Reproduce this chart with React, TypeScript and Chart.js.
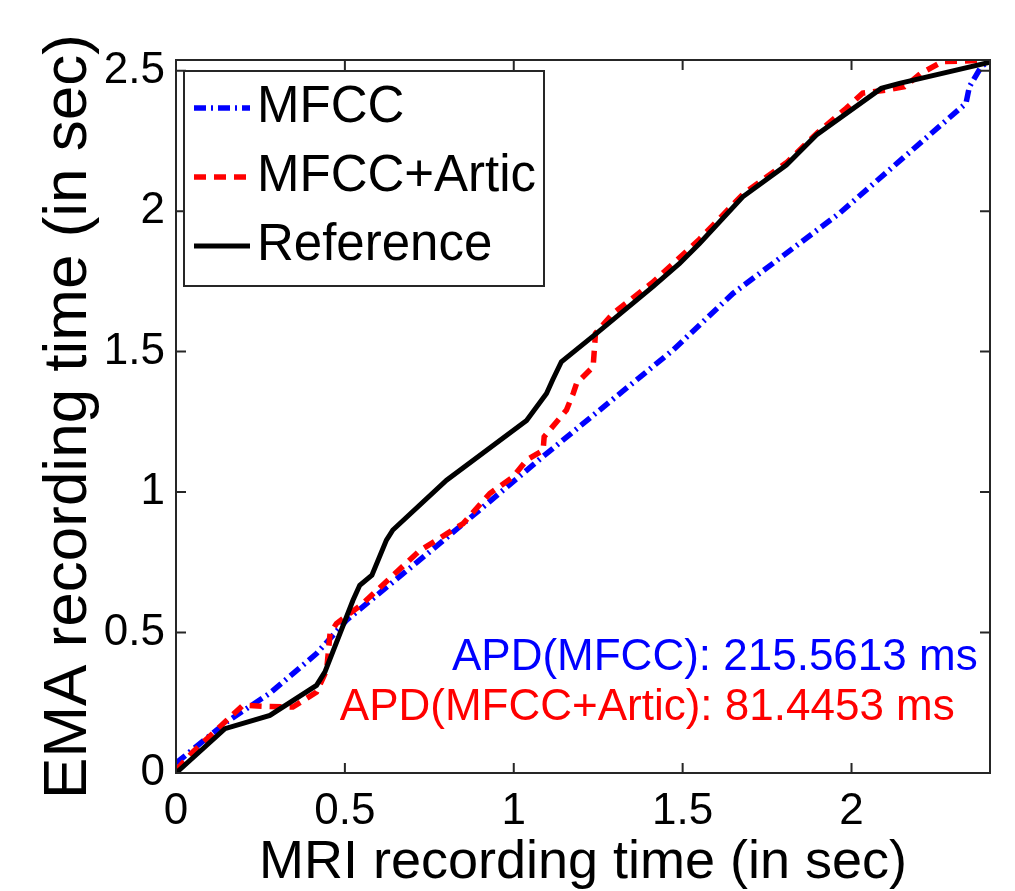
import React, { useEffect, useRef } from 'react';
import { Chart, registerables } from 'chart.js';

Chart.register(...registerables);

// ---- data ----
const seriesLabels = ['MFCC', 'MFCC+Artic', 'Reference'];

const mfccX = [0, 0.15, 0.278, 0.416, 0.505, 0.781, 1.097, 1.471, 1.649, 1.964, 2.339, 2.349, 2.384, 2.41];
const mfccY = [0.035, 0.182, 0.284, 0.425, 0.544, 0.817, 1.137, 1.505, 1.707, 1.992, 2.384, 2.443, 2.514, 2.538];

const articX = [0, 0.05, 0.198, 0.268, 0.346, 0.416, 0.446, 0.456, 0.475, 0.55, 0.72, 0.85, 0.929, 0.998, 1.038, 1.087, 1.09, 1.156, 1.176, 1.186, 1.235, 1.242, 1.294, 1.41, 1.55, 1.68, 1.81, 1.9, 1.984, 2.033, 2.103, 2.157, 2.206, 2.269, 2.41];
const articY = [0.01, 0.075, 0.241, 0.237, 0.235, 0.288, 0.366, 0.496, 0.532, 0.6, 0.79, 0.888, 0.995, 1.054, 1.114, 1.149, 1.197, 1.292, 1.351, 1.387, 1.446, 1.565, 1.636, 1.745, 1.9, 2.062, 2.175, 2.28, 2.366, 2.42, 2.431, 2.443, 2.491, 2.532, 2.538];

const refX = [0, 0.145, 0.278, 0.416, 0.441, 0.524, 0.544, 0.58, 0.623, 0.642, 0.801, 1.038, 1.097, 1.115, 1.141, 1.245, 1.412, 1.491, 1.55, 1.678, 1.807, 1.896, 2.088, 2.142, 2.41];
const refY = [0, 0.158, 0.205, 0.312, 0.36, 0.615, 0.668, 0.704, 0.829, 0.865, 1.042, 1.255, 1.351, 1.399, 1.464, 1.565, 1.731, 1.814, 1.885, 2.051, 2.164, 2.271, 2.437, 2.455, 2.53];

const xTicks = [0, 0.5, 1, 1.5, 2];
const yTicks = [0, 0.5, 1, 1.5, 2, 2.5];
const xMin = 0;
const xMax = 2.41;
const yMin = 0;
const yMax = 2.538;

const xTitle = 'MRI recording time (in sec)';
const yTitle = 'EMA recording time (in sec)';

const apdTexts = ['APD(MFCC): 215.5613 ms', 'APD(MFCC+Artic): 81.4453 ms'];
const apdX = [0.817, 0.485];
const apdY = [0.366, 0.188];
const apdColors = ['#0000ff', '#ff0000'];

const FONT = "'Liberation Sans', Arial, Helvetica, sans-serif";

const toPoints = (xs: number[], ys: number[]) => xs.map((x, i) => ({ x, y: ys[i] }));

const framePlugin = {
  id: 'frame',
  afterDatasetsDraw(chart: any) {
    const { ctx, chartArea: ca, scales } = chart;
    const xs = scales.x;
    const ys = scales.y;
    ctx.save();
    ctx.strokeStyle = '#262626';
    ctx.lineWidth = 2;
    ctx.setLineDash([]);
    ctx.strokeRect(ca.left, ca.top, ca.right - ca.left, ca.bottom - ca.top);
    const tl = 10;
    ctx.beginPath();
    xTicks.forEach((v) => {
      const px = xs.getPixelForValue(v);
      ctx.moveTo(px, ca.bottom);
      ctx.lineTo(px, ca.bottom - tl);
      ctx.moveTo(px, ca.top);
      ctx.lineTo(px, ca.top + tl);
    });
    yTicks.forEach((v) => {
      const py = ys.getPixelForValue(v);
      ctx.moveTo(ca.left, py);
      ctx.lineTo(ca.left + tl, py);
      ctx.moveTo(ca.right, py);
      ctx.lineTo(ca.right - tl, py);
    });
    ctx.stroke();
    ctx.restore();
  },
  afterDraw(chart: any) {
    const { ctx, chartArea: ca, scales } = chart;
    ctx.save();
    // annotations
    ctx.font = `44px ${FONT}`;
    ctx.textAlign = 'left';
    ctx.textBaseline = 'alphabetic';
    apdTexts.forEach((t, i) => {
      ctx.fillStyle = apdColors[i];
      ctx.fillText(t, scales.x.getPixelForValue(apdX[i]), scales.y.getPixelForValue(apdY[i]));
    });
    // legend
    const lx = ca.left + 8;
    const ly = ca.top + 11;
    const lw = 360;
    const lh = 215;
    ctx.fillStyle = '#ffffff';
    ctx.fillRect(lx, ly, lw, lh);
    ctx.strokeStyle = '#262626';
    ctx.lineWidth = 2;
    ctx.setLineDash([]);
    ctx.strokeRect(lx, ly, lw, lh);
    const rows = [37, 106, 175];
    ctx.font = `51px ${FONT}`;
    ctx.textBaseline = 'middle';
    chart.data.datasets.forEach((ds: any, i: number) => {
      const cy = ly + rows[i];
      ctx.strokeStyle = ds.borderColor;
      ctx.lineWidth = ds.borderWidth;
      ctx.setLineDash(ds.borderDash || []);
      ctx.beginPath();
      ctx.moveTo(lx + 10, cy);
      ctx.lineTo(lx + 66, cy);
      ctx.stroke();
      ctx.setLineDash([]);
      ctx.fillStyle = '#000000';
      ctx.fillText(ds.label, lx + 73, cy);
    });
    ctx.restore();
  },
};

export default function App() {
  const canvasRef = useRef<HTMLCanvasElement | null>(null);

  useEffect(() => {
    if (!canvasRef.current) return;
    const chart = new Chart(canvasRef.current, {
      type: 'line',
      data: {
        datasets: [
          {
            label: seriesLabels[0],
            data: toPoints(mfccX, mfccY),
            borderColor: '#0000ff',
            borderWidth: 5.5,
            borderDash: [12, 5, 2, 5],
            pointRadius: 0,
            tension: 0,
            order: 3,
            clip: 0,
          },
          {
            label: seriesLabels[1],
            data: toPoints(articX, articY),
            borderColor: '#ff0000',
            borderWidth: 5.5,
            borderDash: [12, 8],
            pointRadius: 0,
            tension: 0,
            order: 2,
            clip: 0,
          },
          {
            label: seriesLabels[2],
            data: toPoints(refX, refY),
            borderColor: '#000000',
            borderWidth: 5,
            pointRadius: 0,
            tension: 0,
            order: 1,
            clip: 0,
          },
        ],
      } as any,
      options: {
        animation: false,
        responsive: true,
        maintainAspectRatio: false,
        layout: { padding: { left: 0, top: 60, right: 25, bottom: 0 } },
        plugins: {
          legend: { display: false },
          tooltip: { enabled: false },
        },
        scales: {
          x: {
            type: 'linear',
            min: xMin,
            max: xMax,
            grid: { display: false, drawTicks: false },
            border: { display: false },
            afterBuildTicks: (s: any) => {
              s.ticks = xTicks.map((v) => ({ value: v }));
            },
            afterFit: (s: any) => {
              s.height = 118;
            },
            ticks: {
              padding: 12,
              color: '#000000',
              font: { family: FONT, size: 44, lineHeight: 1.2 },
              maxRotation: 0,
              autoSkip: false,
              callback: (v: any) => String(v),
            },
            title: {
              display: true,
              text: xTitle,
              color: '#000000',
              font: { family: FONT, size: 54, lineHeight: 1 },
              padding: { top: 0, bottom: 1 },
            },
          },
          y: {
            type: 'linear',
            min: yMin,
            max: yMax,
            grid: { display: false, drawTicks: false },
            border: { display: false },
            afterBuildTicks: (s: any) => {
              s.ticks = yTicks.map((v) => ({ value: v }));
            },
            afterFit: (s: any) => {
              s.width = 176;
            },
            ticks: {
              padding: 11,
              color: '#000000',
              font: { family: FONT, size: 44, lineHeight: 1.2 },
              autoSkip: false,
              callback: (v: any) => String(v),
            },
            title: {
              display: true,
              text: yTitle,
              color: '#000000',
              font: { family: FONT, size: 62, lineHeight: 1 },
              padding: { top: 38, bottom: 0 },
            },
          },
        },
      } as any,
      plugins: [framePlugin],
    });
    return () => chart.destroy();
  }, []);

  return (
    <div style={{ position: 'fixed', left: 0, top: 0, width: 1015, height: 891, background: '#ffffff' }}>
      <canvas ref={canvasRef} />
    </div>
  );
}
